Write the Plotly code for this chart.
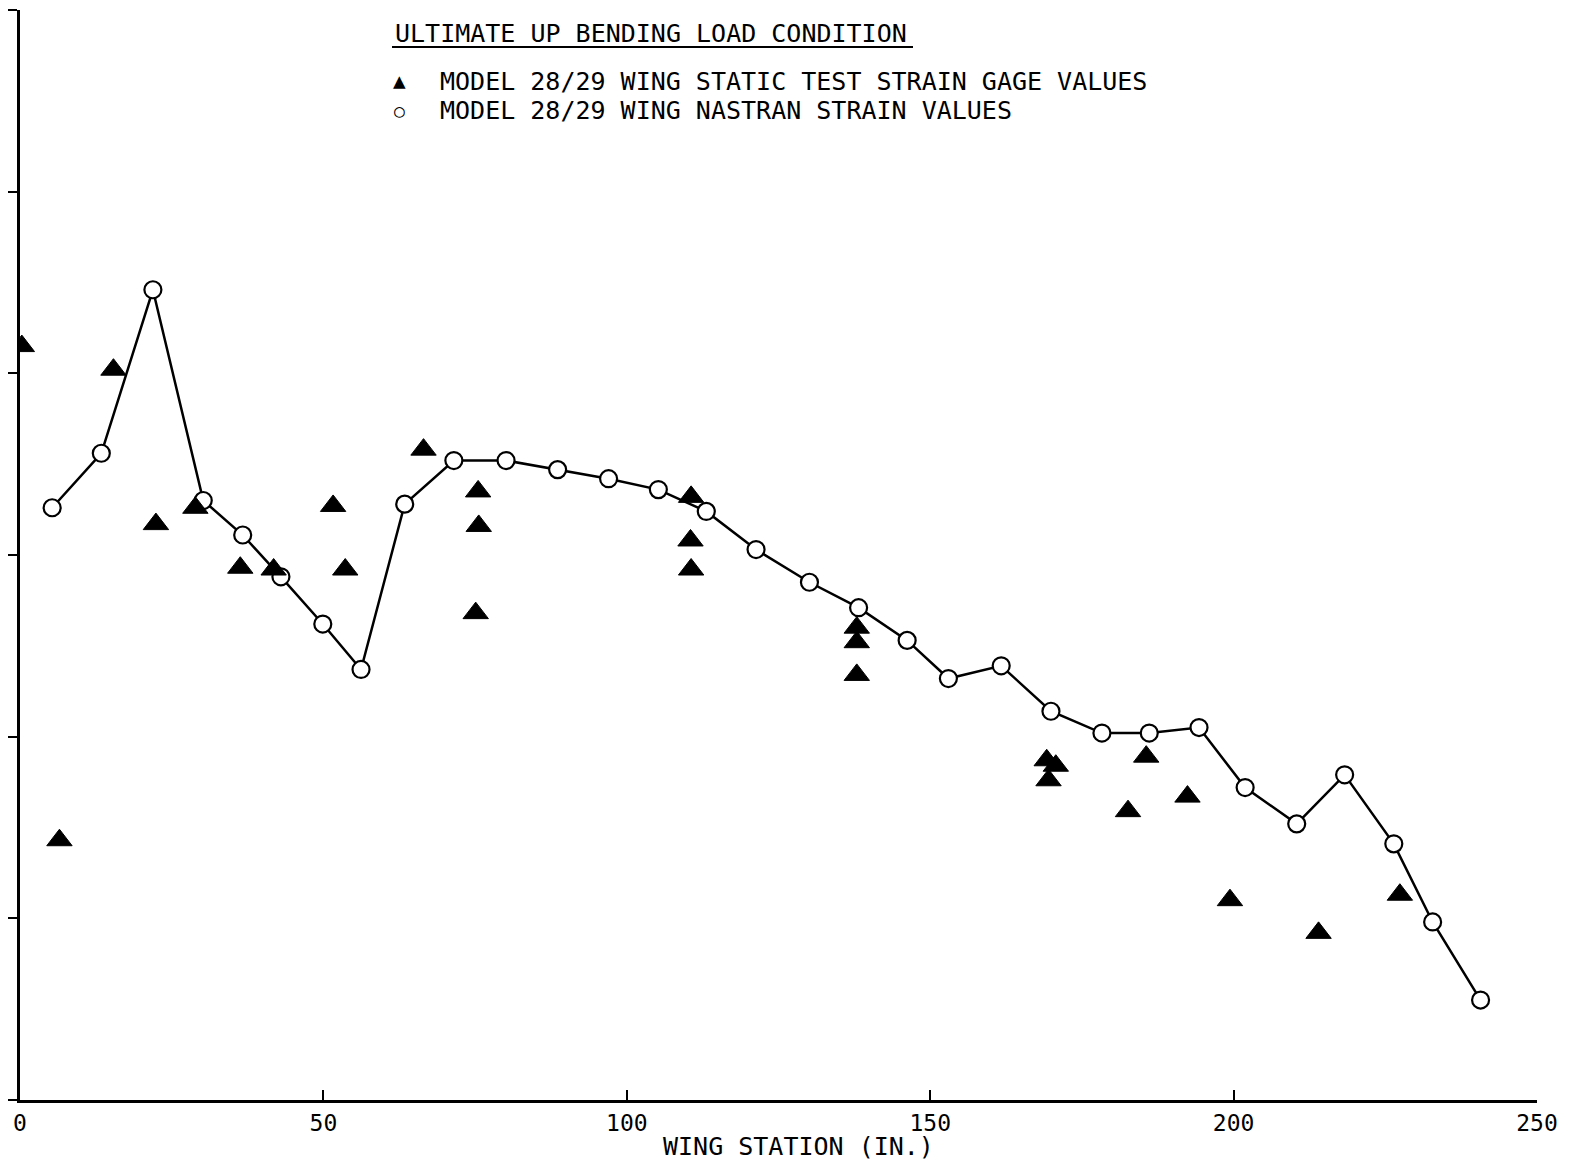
import plotly.graph_objects as go

# NASTRAN strain values (open circles, connected)
nastran_x = [5.3, 13.4, 21.9, 30.2, 36.7, 43.0, 49.9, 56.2, 63.4, 71.5, 80.1, 88.6, 97.0,
             105.2, 113.1, 121.3, 130.1, 138.2, 146.2, 153.0, 161.7, 169.9, 178.3, 186.1,
             194.3, 201.9, 210.4, 218.3, 226.4, 232.8, 240.7]
nastran_y = [3.26, 3.56, 4.46, 3.30, 3.11, 2.88, 2.62, 2.37, 3.28, 3.52, 3.52, 3.47, 3.42,
             3.36, 3.24, 3.03, 2.85, 2.71, 2.53, 2.32, 2.39, 2.14, 2.02, 2.02,
             2.05, 1.72, 1.52, 1.79, 1.41, 0.98, 0.55]

# Static test strain gage values (filled triangles)
gage_x = [0.3, 15.4, 6.5, 22.4, 28.9, 36.3, 41.8, 51.6, 53.6, 66.5, 75.5, 75.6, 75.1,
          110.6, 110.5, 110.6, 137.9, 137.9, 137.9, 169.2, 170.7, 169.5, 185.6, 182.6,
          192.4, 199.4, 214.0, 227.4]
gage_y = [4.15, 4.02, 1.43, 3.17, 3.26, 2.93, 2.92, 3.27, 2.92, 3.58, 3.35, 3.16, 2.68,
          3.32, 3.08, 2.92, 2.60, 2.52, 2.34, 1.87, 1.84, 1.76, 1.89, 1.59,
          1.67, 1.10, 0.92, 1.13]

x_ticks = [0, 50, 100, 150, 200, 250]
x_tick_labels = ["0", "50", "100", "150", "200", "250"]
y_ticks = [0, 1, 2, 3, 4, 5, 6]

title_text = "ULTIMATE UP BENDING LOAD CONDITION"
legend_gage = "MODEL 28/29 WING STATIC TEST STRAIN GAGE VALUES"
legend_nastran = "MODEL 28/29 WING NASTRAN STRAIN VALUES"
x_title = "WING STATION (IN.)"

FONT = "DejaVu Sans Mono"
OFF = 8                      # page body margin
W, H = 1579 - OFF, 1163 - OFF
# plot area in page pixels: x 20..1537, y 10..1100
L, R = 20 - OFF, W - (1537 - OFF)
T, B = 10 - OFF, H - (1100 - OFF)


def px(xp):
    return (xp - OFF - L) / (W - L - R)


def py(yp):
    return 1 - (yp - OFF - T) / (H - T - B)


fig = go.Figure()

fig.add_trace(go.Scatter(
    x=nastran_x, y=nastran_y, mode="lines",
    line=dict(color="black", width=2.5), showlegend=False, hoverinfo="skip"))

fig.add_trace(go.Scatter(
    x=nastran_x, y=nastran_y, mode="markers",
    marker=dict(symbol="circle", size=17, color="white",
                line=dict(color="black", width=2.2)),
    showlegend=False))

fig.add_trace(go.Scatter(
    x=gage_x, y=gage_y, mode="markers",
    marker=dict(symbol="triangle-up", size=22, color="black",
                line=dict(color="black", width=1)),
    showlegend=False))

# title
fig.add_annotation(
    text=title_text, xref="paper", yref="paper",
    x=px(393), y=py(33), xanchor="left", yanchor="middle", showarrow=False,
    font=dict(family=FONT, size=25, color="black"))
fig.add_shape(type="line", xref="paper", yref="paper",
              x0=px(392), x1=px(913), y0=py(47), y1=py(47),
              line=dict(color="black", width=2))

# legend lines
fig.add_annotation(
    text="▲", xref="paper", yref="paper",
    x=px(399), y=py(81), xanchor="center", yanchor="middle", showarrow=False,
    font=dict(family=FONT, size=21, color="black"))
fig.add_annotation(
    text=legend_gage, xref="paper", yref="paper",
    x=px(438), y=py(81), xanchor="left", yanchor="middle", showarrow=False,
    font=dict(family=FONT, size=25, color="black"))
fig.add_annotation(
    text="○", xref="paper", yref="paper",
    x=px(399), y=py(111), xanchor="center", yanchor="middle", showarrow=False,
    font=dict(family=FONT, size=18, color="black"))
fig.add_annotation(
    text=legend_nastran, xref="paper", yref="paper",
    x=px(438), y=py(110), xanchor="left", yanchor="middle", showarrow=False,
    font=dict(family=FONT, size=25, color="black"))

# x axis title
fig.add_annotation(
    text=x_title, xref="paper", yref="paper",
    x=px(798), y=py(1146), xanchor="center", yanchor="middle", showarrow=False,
    font=dict(family=FONT, size=25, color="black"))

fig.update_layout(
    width=W, height=H,
    margin=dict(l=L, r=R, t=T, b=B, autoexpand=False),
    paper_bgcolor="white", plot_bgcolor="white",
    font=dict(family=FONT, size=24, color="black"),
    showlegend=False,
    xaxis=dict(range=[0, 250], tickvals=x_ticks, ticktext=x_tick_labels,
               showgrid=False, zeroline=False, showline=True,
               linecolor="black", linewidth=3, ticks="inside", ticklen=10,
               tickwidth=2, tickcolor="black",
               tickfont=dict(family=FONT, size=23, color="black")),
    yaxis=dict(range=[0, 6], tickvals=y_ticks, showticklabels=False,
               showgrid=False, zeroline=False, showline=True,
               linecolor="black", linewidth=3, ticks="outside", ticklen=9,
               tickwidth=2, tickcolor="black"),
)

fig.write_html("out.html")
